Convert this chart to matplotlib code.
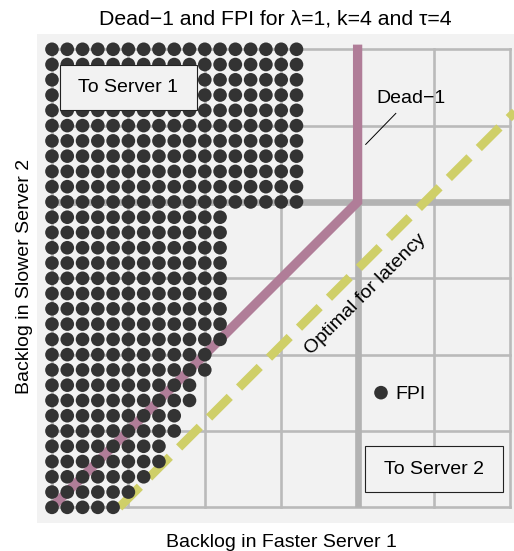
import matplotlib
matplotlib.use("Agg")
import matplotlib.pyplot as plt
from matplotlib.patches import Rectangle
import numpy as np

plt.rcParams['font.family'] = ['Liberation Sans', 'DejaVu Sans']
plt.rcParams['lines.scale_dashes'] = False

# ---- data ----
# For each backlog of server 2 (row y = 0..30), the largest backlog of server 1
# for which the FPI policy sends the job to Server 1 (dots drawn for x = 0..max)
fpi_rows = list(range(0, 31))
fpi_xmax = [4, 5, 6, 7, 7, 8, 8, 9, 9, 10, 10,
            11, 11, 11, 11, 11, 11, 11, 11, 11,
            16, 16, 16, 16, 16, 16, 16, 16, 16, 16, 16]
dead1_x = [0, 20, 20]
dead1_y = [0, 20, 30]
optimal_x = [4.4, 36]
optimal_offset = 4.4
grid_thin = [0, 5, 10, 15, 25, 30]
grid_thick = [20]
title = "Dead\u22121 and FPI for \u03bb=1, k=4 and \u03c4=4"
xlabel = "Backlog in Faster Server 1"
ylabel = "Backlog in Slower Server 2"

W, H = 514, 551
fig = plt.figure(figsize=(W / 100, H / 100), dpi=100)
fig.patch.set_facecolor('white')

# axes placed by pixels (extends past the right edge as in the reference crop)
left_px, right_px, top_px, bottom_px = 36.7, 525.7, 34.0, 522.6
ax = fig.add_axes([left_px / W, 1 - bottom_px / H,
                   (right_px - left_px) / W, (bottom_px - top_px) / H])
ax.set_xlim(-1, 31)
ax.set_ylim(-1, 31)
ax.set_facecolor('#f2f2f2')
for s in ax.spines.values():
    s.set_visible(False)
ax.set_xticks([])
ax.set_yticks([])

gc = '#bababa'
for v in grid_thin:
    ax.plot([v, v], [0, 30], color=gc, lw=1.9, zorder=1, solid_capstyle='projecting')
    ax.plot([0, 30], [v, v], color=gc, lw=1.9, zorder=1, solid_capstyle='projecting')
for v in grid_thick:
    ax.plot([v, v], [0, 30], color='#b3b3b3', lw=4.8, zorder=1.1, solid_capstyle='butt')
    ax.plot([0, 30], [v, v], color='#b3b3b3', lw=4.8, zorder=1.1, solid_capstyle='butt')

# Dead-1 curve
ax.plot(dead1_x, dead1_y, color='#b07d98', lw=6.7, zorder=2,
        solid_capstyle='projecting', solid_joinstyle='miter')

# Optimal for latency line
ox = np.array(optimal_x)
ax.plot(ox, ox - optimal_offset, color='#cfcf68', lw=6.3, zorder=2.1,
        linestyle=(0, (21, 9.5)), dash_capstyle='butt')

# FPI dots
xs, ys = [], []
for y, xm in zip(fpi_rows, fpi_xmax):
    for x in range(0, xm + 1):
        xs.append(x)
        ys.append(y)
ax.scatter(xs, ys, s=96, color='#333333', edgecolors='none', zorder=3)

# legend-like FPI marker
ax.scatter([21.53], [7.51], s=96, color='#333333', edgecolors='none', zorder=3)
ax.text(22.5, 7.08, "FPI", fontsize=14, ha='left', va='baseline', zorder=5)

# boxes
ax.add_patch(Rectangle((0.5, 26), 9, 3, facecolor='#f2f2f2', edgecolor='#222222',
                       lw=0.8, zorder=4))
ax.text(5, 27.5, "To Server 1", fontsize=14, ha='center', va='center', zorder=5)
ax.add_patch(Rectangle((20.5, 1), 9, 3, facecolor='#f2f2f2', edgecolor='#222222',
                       lw=0.8, zorder=4))
ax.text(25, 2.5, "To Server 2", fontsize=14, ha='center', va='center', zorder=5)

# Dead-1 annotation
ax.plot([20.53, 22.5], [23.77, 25.8], color='black', lw=0.7, zorder=4)
ax.text(21.25, 26.49, "Dead\u22121", fontsize=14, ha='left', va='baseline', zorder=5)

# Optimal for latency label
ax.text(20.55, 13.97, "Optimal for latency", fontsize=14, rotation=45,
        rotation_mode='anchor', ha='center', va='center', zorder=5)

# title and axis labels
fig.text(275 / W, 1 - 24.5 / H, title, fontsize=15.3, ha='center', va='baseline')
fig.text(281.7 / W, 1 - 547 / H, xlabel, fontsize=14, ha='center', va='baseline')
fig.text(24.5 / W, 1 - 276 / H, ylabel, fontsize=14, ha='center', va='center',
         rotation=90, rotation_mode='anchor')

fig.savefig("out.png", dpi=100, facecolor='white')
